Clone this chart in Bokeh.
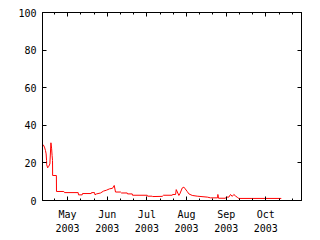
import pandas as pd
from bokeh.plotting import figure
from bokeh.models import (Range1d, FixedTicker, DatetimeAxis, LinearAxis,
                          CustomJSTickFormatter)
from bokeh.embed import file_html
from bokeh.resources import INLINE

# ---- data ----
times = [
    "2003-04-26 12:00", "2003-04-27 12:00", "2003-04-28 06:00", "2003-04-28 18:00",
    "2003-04-29 02:00", "2003-04-29 04:00", "2003-04-29 22:00", "2003-04-30 18:00",
    "2003-05-01 14:00", "2003-05-02 09:00", "2003-05-02 22:00", "2003-05-03 06:00",
    "2003-05-03 14:00", "2003-05-03 16:00", "2003-05-06 12:00", "2003-05-06 14:00",
    "2003-05-12 03:00", "2003-05-12 16:00", "2003-05-23 00:00", "2003-05-23 06:00",
    "2003-05-26 01:00", "2003-05-26 07:00", "2003-06-01 21:00", "2003-06-02 02:00",
    "2003-06-04 09:00", "2003-06-04 18:00", "2003-06-05 21:00", "2003-06-08 22:00",
    "2003-06-11 04:00", "2003-06-13 11:00", "2003-06-15 17:00", "2003-06-18 00:00",
    "2003-06-19 07:00", "2003-06-20 06:00", "2003-06-24 01:00", "2003-06-24 19:00",
    "2003-06-29 03:00", "2003-06-29 08:00", "2003-07-02 22:00", "2003-07-03 03:00",
    "2003-07-14 06:00", "2003-07-14 12:00", "2003-07-18 01:00", "2003-07-18 06:00",
    "2003-07-25 15:00", "2003-07-26 14:00", "2003-08-02 05:00", "2003-08-02 10:00",
    "2003-08-04 17:00", "2003-08-05 05:00", "2003-08-07 05:00", "2003-08-07 22:00",
    "2003-08-09 19:00", "2003-08-11 00:00", "2003-08-12 00:00", "2003-08-13 12:00",
    "2003-08-14 19:00", "2003-08-17 07:00", "2003-08-21 02:00", "2003-08-28 17:00",
    "2003-08-31 05:00", "2003-09-05 12:00", "2003-09-05 17:00", "2003-09-06 05:00",
    "2003-09-11 12:00", "2003-09-12 02:00", "2003-09-14 00:00", "2003-09-15 07:00",
    "2003-09-16 14:00", "2003-09-17 19:00", "2003-09-19 02:00", "2003-09-20 10:00",
    "2003-09-21 14:00", "2003-10-23 17:00",
]
values = [
    29.7, 28.4, 26.6, 24.8,
    21.3, 19.0, 17.4, 18.2,
    19.5, 30.7, 27.5, 24.0,
    21.3, 13.3, 13.3, 4.8,
    4.8, 4.2, 4.2, 3.0,
    3.0, 3.7, 3.7, 4.2,
    4.2, 3.0, 3.5, 4.0,
    5.0, 5.5, 6.2, 6.5,
    8.0, 4.5, 4.5, 4.0,
    4.0, 3.5, 3.5, 2.8,
    2.8, 2.3, 2.3, 2.1,
    2.2, 2.8, 2.8, 3.2,
    3.2, 5.8, 2.7, 3.5,
    6.7, 7.1, 6.2, 4.8,
    3.5, 2.7, 2.3, 1.8,
    1.4, 1.4, 3.2, 1.2,
    1.2, 1.8, 1.8, 3.2,
    2.2, 3.2, 2.4, 1.7,
    1.1, 1.1,
]
tick_dates = ["2003-05-15", "2003-06-14", "2003-07-14", "2003-08-13",
              "2003-09-12", "2003-10-12"]
tick_labels = ["May\n2003", "Jun\n2003", "Jul\n2003", "Aug\n2003",
               "Sep\n2003", "Oct\n2003"]
y_ticks = [0, 20, 40, 60, 80, 100]

x_start, x_end = "2003-04-26", "2003-11-08"


def ms(s):
    return pd.Timestamp(s).value / 1e6


xs = pd.to_datetime(times)
major = [ms(d) for d in tick_dates]
minor = [ms(d) for d in pd.date_range("2003-04-25", "2003-11-10", freq="10D")]

FONT = "DejaVu Sans Mono"

p = figure(width=320, height=240, output_backend="svg", toolbar_location=None,
           x_axis_type="datetime",
           x_range=Range1d(pd.Timestamp(x_start), pd.Timestamp(x_end)),
           y_range=Range1d(0, 100),
           min_border_left=42, min_border_right=19,
           min_border_top=12, min_border_bottom=40)
p.background_fill_color = "white"
p.border_fill_color = "white"
p.outline_line_color = "black"
p.grid.visible = False

p.line(xs, values, line_color="red", line_width=1)

xticker = FixedTicker(ticks=major, minor_ticks=minor)
yticker = FixedTicker(ticks=y_ticks)


def style(ax):
    ax.axis_line_color = "black"
    ax.major_tick_line_color = "black"
    ax.minor_tick_line_color = "black"
    ax.major_tick_in = 4
    ax.major_tick_out = 0
    ax.minor_tick_in = 2
    ax.minor_tick_out = 0
    ax.major_label_text_font = FONT
    ax.major_label_text_font_size = "10px"
    ax.major_label_text_color = "black"


xa = p.xaxis[0]
xa.ticker = xticker
xa.major_label_overrides = {m: l for m, l in zip(major, tick_labels)}
style(xa)
xa.major_label_standoff = 8
xa.major_label_text_line_height = 1.3

ya = p.yaxis[0]
ya.ticker = yticker
style(ya)
ya.minor_tick_line_color = None
ya.major_label_standoff = 6

blank = CustomJSTickFormatter(code="return ''")
top = DatetimeAxis(ticker=xticker, formatter=blank)
style(top)
p.add_layout(top, "above")
right = LinearAxis(ticker=yticker, formatter=blank)
style(right)
right.minor_tick_line_color = None
p.add_layout(right, "right")

open("out.html", "w").write(file_html(p, INLINE))
